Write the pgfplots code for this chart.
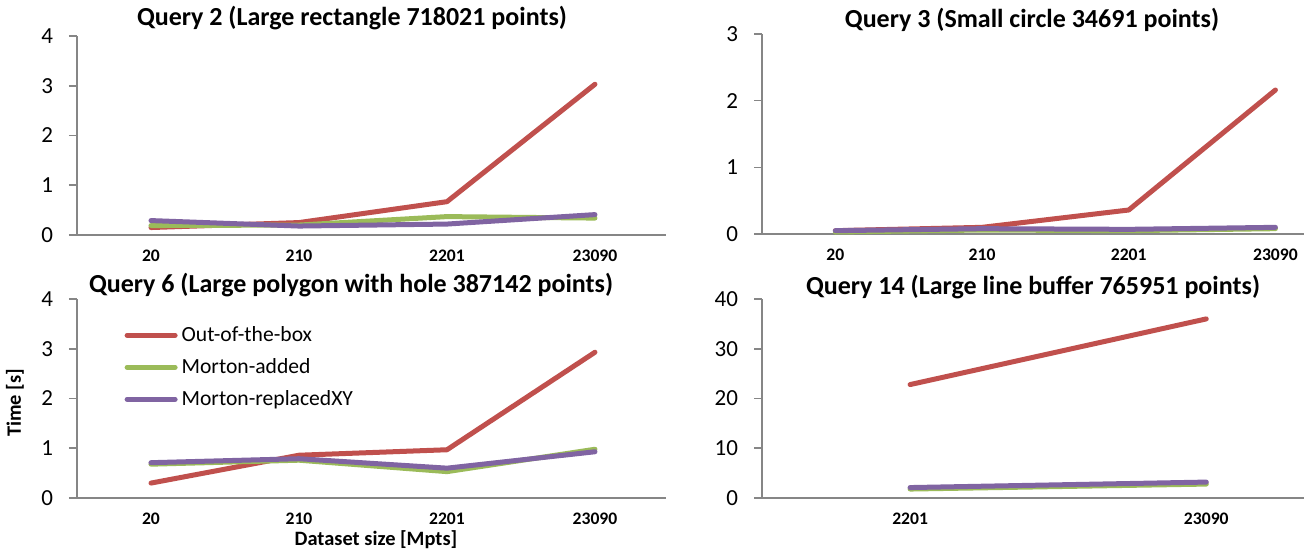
\documentclass[border=0pt]{standalone}
\usepackage{fontspec}
\setmainfont{Carlito}
\usepackage{pgfplots}
\pgfplotsset{compat=1.18}

\definecolor{xlred}{HTML}{C0504D}
\definecolor{xlgreen}{HTML}{9BBB59}
\definecolor{xlpurple}{HTML}{8064A2}
\definecolor{axgray}{HTML}{868686}

% 1 px of the reference = 0.5pt
\pgfplotsset{
  xlchart/.style={
    scale only axis,
    anchor=south west,
    axis lines=left,
    axis line style={-, draw=axgray, line width=0.8pt},
    xmin=-0.5, ymin=0,
    xtick={0,1,2,3},
    xticklabels={20,210,2201,23090},
    xtick style={draw=none},
    ytick style={draw=axgray, line width=0.8pt},
    tick align=outside,
    major tick length=4pt,
    x tick label style={font=\fontsize{8.8}{10}\selectfont\bfseries},
    y tick label style={font=\fontsize{11.5}{13}\selectfont, xshift=-4.5pt},
    /pgf/number format/assume math mode=true,
    clip=false,
    every axis plot/.append style={line width=2.5pt, line join=round, line cap=round, mark=none},
  },
}

\begin{document}
\begin{tikzpicture}
\useasboundingbox (0,0) rectangle (652pt,274pt);

% Query 2
\begin{axis}[xlchart, at={(38.5pt,156.5pt)}, width=294.5pt, height=99.5pt,
  xmax=3.48, ymax=4, ytick={0,1,2,3,4}]
\addplot[xlred] coordinates {(0,0.15) (1,0.25) (2,0.67) (3,3.03)};
\addplot[xlgreen] coordinates {(0,0.19) (1,0.20) (2,0.37) (3,0.34)};
\addplot[xlpurple] coordinates {(0,0.29) (1,0.18) (2,0.22) (3,0.41)};
\end{axis}

% Query 3
\begin{axis}[xlchart, at={(381pt,157pt)}, width=271pt, height=100pt,
  xmax=3.195, ymax=3, ytick={0,1,2,3}]
\addplot[xlred] coordinates {(0,0.05) (1,0.10) (2,0.36) (3,2.16)};
\addplot[xlgreen] coordinates {(0,0.03) (1,0.06) (2,0.05) (3,0.08)};
\addplot[xlpurple] coordinates {(0,0.05) (1,0.08) (2,0.07) (3,0.10)};
\end{axis}

% Query 6
\begin{axis}[xlchart, at={(38.5pt,25pt)}, width=294.5pt, height=99.5pt,
  xmax=3.48, ymax=4, ytick={0,1,2,3,4},
  legend style={at={(0.07,0.905)}, anchor=north west, draw=none, fill=none,
    font=\fontsize{10.8}{12}\selectfont, row sep=3pt,
    /tikz/every even column/.append style={column sep=0pt}},
  legend cell align=left,
  legend image code/.code={\draw[#1, line width=2.5pt, line cap=round] (0pt,0pt) -- (24pt,0pt);}]
\addplot[xlred] coordinates {(0,0.30) (1,0.86) (2,0.97) (3,2.93)};
\addplot[xlgreen] coordinates {(0,0.68) (1,0.76) (2,0.53) (3,0.98)};
\addplot[xlpurple] coordinates {(0,0.71) (1,0.79) (2,0.60) (3,0.93)};
\legend{Out-of-the-box, Morton-added, Morton-replacedXY}
\end{axis}

% Query 14
\begin{axis}[xlchart, at={(381pt,25pt)}, width=271pt, height=99.5pt,
  xmax=1.33, ymax=40, ytick={0,10,20,30,40},
  xtick={0,1}, xticklabels={2201,23090}]
\addplot[xlred] coordinates {(0,22.8) (1,36.0)};
\addplot[xlgreen] coordinates {(0,1.8) (1,2.8)};
\addplot[xlpurple] coordinates {(0,2.1) (1,3.2)};
\end{axis}

\begin{scope}[every node/.style={font=\fontsize{13}{15}\selectfont\bfseries}]
\node at (176pt,265pt) {Query 2 (Large rectangle 718021 points)};
\node at (516pt,264pt) {Query 3 (Small circle 34691 points)};
\node at (175.5pt,131.5pt) {Query 6 (Large polygon with hole 387142 points)};
\node at (516.5pt,130.5pt) {Query 14 (Large line buffer 765951 points)};
\end{scope}
\node[font=\fontsize{10.2}{12}\selectfont\bfseries, anchor=base] at (188pt,1.5pt) {Dataset size [Mpts]};
\node[font=\fontsize{10.2}{12}\selectfont\bfseries, rotate=90] at (7.5pt,72.5pt) {Time [s]};
\end{tikzpicture}
\end{document}
